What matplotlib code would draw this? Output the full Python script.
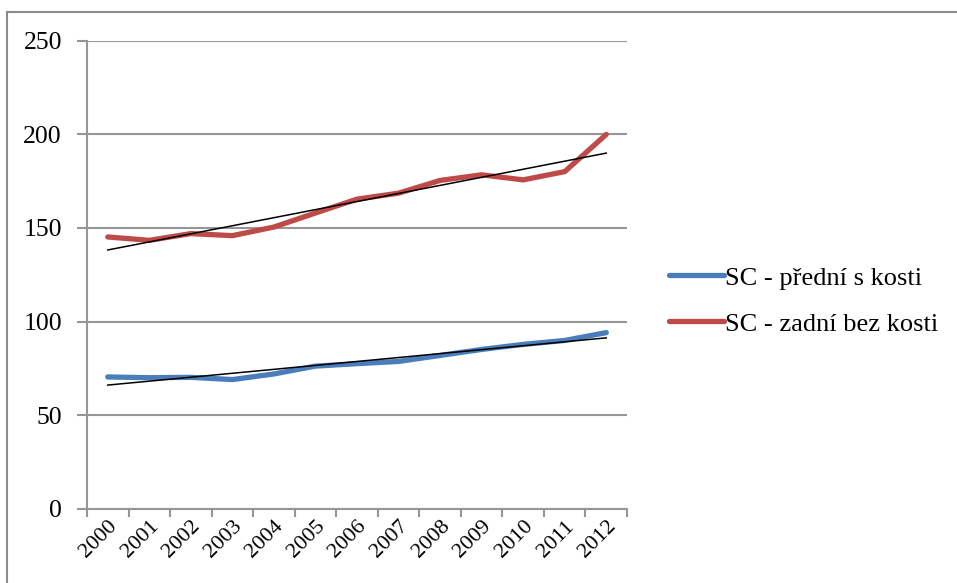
import numpy as np
import matplotlib
import matplotlib.pyplot as plt
from matplotlib.lines import Line2D

matplotlib.rcParams['font.family'] = ['Liberation Serif', 'DejaVu Serif']

years = ['2000', '2001', '2002', '2003', '2004', '2005', '2006',
         '2007', '2008', '2009', '2010', '2011', '2012']
predni = [70.4, 70.0, 70.2, 69.0, 72.0, 76.2, 77.5, 78.7, 81.9, 85.1, 87.8, 89.9, 94.1]
zadni = [145.2, 143.4, 147.0, 145.9, 150.5, 158.0, 165.4, 168.6, 175.4, 178.4, 175.7, 180.1, 200.0]
labels = ['SC - přední s kosti', 'SC - zadní bez kosti']
y_ticks = [0, 50, 100, 150, 200, 250]

grid_c = '#969696'
fig = plt.figure(figsize=(9.57, 5.83), dpi=100, facecolor='white')
ax = fig.add_axes([0.0909, 0.1274, 0.5643, 0.8026])

x = np.arange(len(years)) + 0.5
ax.plot(x, predni, color='#4A7EBB', lw=3.8, solid_capstyle='round', label=labels[0], zorder=3)
ax.plot(x, zadni, color='#BE4B48', lw=3.8, solid_capstyle='round', label=labels[1], zorder=3)

# linearni trend
idx = np.arange(len(years))
for s in (predni, zadni):
    k, q = np.polyfit(idx, s, 1)
    ax.plot(x, k * idx + q, color='black', lw=1.1, zorder=4)

ax.set_xlim(0, len(years))
ax.set_ylim(0, 250)
ax.set_yticks(y_ticks)
ax.set_xticks(np.arange(len(years) + 1))
ax.set_xticklabels([])
ax.set_xticks(x, minor=True)
ax.set_xticklabels(years, minor=True, rotation=45, ha='right', va='top',
                   rotation_mode='anchor', fontsize=16)
ax.tick_params(axis='x', which='minor', length=0, pad=6)
ax.tick_params(axis='x', which='major', length=6, color=grid_c, width=1.5)
ax.tick_params(axis='y', length=7, color=grid_c, width=1.5, labelsize=18.5, pad=11)
ax.yaxis.grid(True, color=grid_c, lw=1.5)
ax.set_axisbelow(True)
for sp in ('top', 'right'):
    ax.spines[sp].set_visible(False)
for sp in ('left', 'bottom'):
    ax.spines[sp].set_color(grid_c)
    ax.spines[sp].set_linewidth(1.5)

fig.legend(loc='center left', bbox_to_anchor=(0.6795, 0.484), frameon=False,
           fontsize=19, handlelength=2.1, handletextpad=0.05, labelspacing=0.85,
           borderpad=0.2)

# ramecek grafu
fig.add_artist(Line2D([0.0075, 0.0075], [0, 0.98], transform=fig.transFigure, color='#8c8c8c', lw=1.5))
fig.add_artist(Line2D([0.0075, 1], [0.98, 0.98], transform=fig.transFigure, color='#8c8c8c', lw=1.5))

plt.savefig('out.png', dpi=100)
